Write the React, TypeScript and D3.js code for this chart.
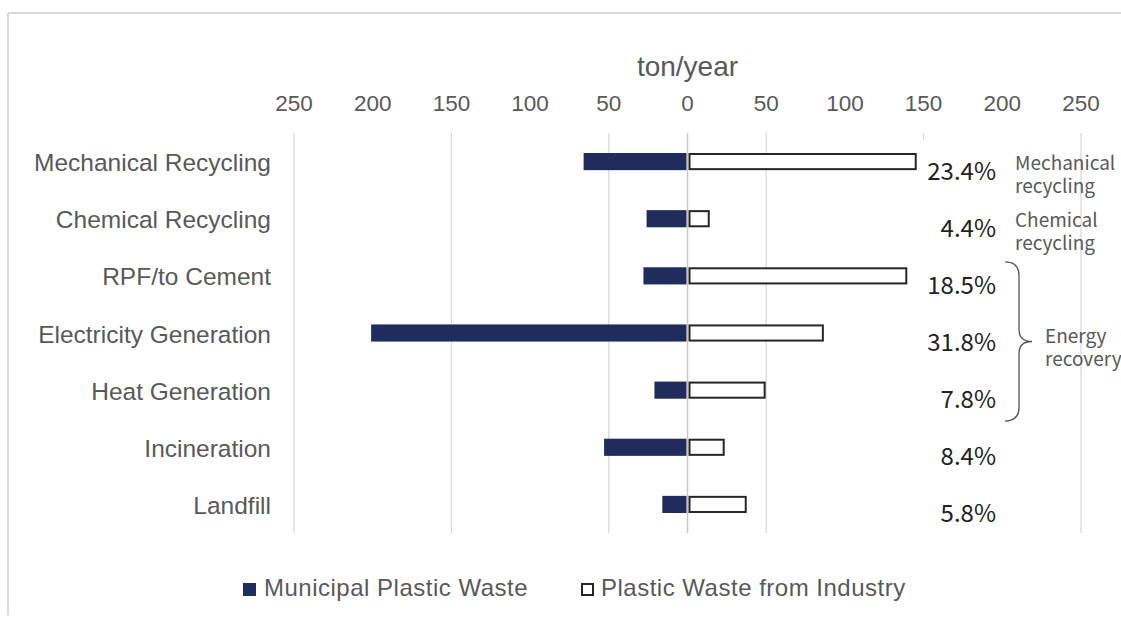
import React from "react";
import * as d3 from "d3";

const categories = [
  "Mechanical Recycling",
  "Chemical Recycling",
  "RPF/to Cement",
  "Electricity Generation",
  "Heat Generation",
  "Incineration",
  "Landfill",
];
const municipal = [66, 26, 28, 201, 21, 53, 16];
const industry = [145, 13.5, 139, 86, 49, 23, 37];
const shares = ["23.4%", "4.4%", "18.5%", "31.8%", "7.8%", "8.4%", "5.8%"];
const tickValues = [-250, -200, -150, -100, -50, 0, 50, 100, 150, 200, 250];
const gridValues = [-250, -150, -50, 50, 150, 250];
const seriesNames = ["Municipal Plastic Waste", "Plastic Waste from Industry"];

const W = 1121;
const H = 618;
const NAVY = "#1F2C5C";
const TXT = "#595959";
const SANS = "'Liberation Sans', Arial, sans-serif";
const JP = "'Noto Sans CJK JP', 'Noto Sans', sans-serif";

export default function App() {
  const x = d3.scaleLinear().domain([-250, 250]).range([294, 1081]);
  const y = d3
    .scaleBand<string>()
    .domain(categories)
    .range([133, 533])
    .paddingInner(0.7)
    .paddingOuter(0.35);
  const bw = y.bandwidth();
  const cy = (c: string) => (y(c) as number) + bw / 2;

  const brTop = cy(categories[2]) - 14;
  const brBot = cy(categories[4]) + 31;
  const brMid = (brTop + brBot) / 2;
  const bx = 1005;
  const bv = 1019;
  const btip = 1032;
  const bracePath = `M${bx},${brTop} Q${bv},${brTop} ${bv},${brTop + 14} L${bv},${brMid - 12} Q${bv},${brMid} ${btip},${brMid} Q${bv},${brMid} ${bv},${brMid + 12} L${bv},${brBot - 14} Q${bv},${brBot} ${bx},${brBot}`;

  const notes = [
    { x: 1015, y: cy(categories[0]) + 8, lines: ["Mechanical", "recycling"] },
    { x: 1015, y: cy(categories[1]) + 8, lines: ["Chemical", "recycling"] },
    { x: 1045, y: brMid + 1, lines: ["Energy", "recovery"] },
  ];

  return (
    <svg
      width={W}
      height={H}
      style={{ position: "absolute", left: 0, top: 0, background: "#fff" }}
    >
      <rect x={0} y={0} width={W} height={H} fill="#fff" />
      {/* frame */}
      <line x1={8} y1={13} x2={W} y2={13} stroke="#d9d9d9" strokeWidth={2} />
      <line x1={8} y1={13} x2={8} y2={615} stroke="#d9d9d9" strokeWidth={2} />

      {/* gridlines */}
      {gridValues.map((v) => (
        <line
          key={v}
          x1={x(v)}
          x2={x(v)}
          y1={133}
          y2={533}
          stroke="#d9d9d9"
          strokeWidth={1.3}
        />
      ))}
      <line x1={x(0)} x2={x(0)} y1={133} y2={533} stroke="#c8c8c8" strokeWidth={1.5} />

      {/* axis title and ticks */}
      <text x={x(0)} y={76} textAnchor="middle" fontFamily={SANS} fontSize={28} fill={TXT}>
        ton/year
      </text>
      {tickValues.map((v) => (
        <text
          key={v}
          x={x(v)}
          y={111}
          textAnchor="middle"
          fontFamily={SANS}
          fontSize={22.5}
          fill={TXT}
        >
          {Math.abs(v)}
        </text>
      ))}

      {/* category labels */}
      {categories.map((c) => (
        <text
          key={c}
          x={271}
          y={cy(c) + 9.5}
          textAnchor="end"
          fontFamily={SANS}
          fontSize={24.5}
          fill={TXT}
        >
          {c}
        </text>
      ))}

      {/* bars */}
      {categories.map((c, i) => (
        <rect
          key={"m" + c}
          x={x(-municipal[i])}
          y={y(c)}
          width={x(0) - x(-municipal[i]) - 1}
          height={bw}
          fill={NAVY}
        />
      ))}
      {categories.map((c, i) => (
        <rect
          key={"i" + c}
          x={x(0) + 2}
          y={(y(c) as number) + 1}
          width={x(industry[i]) - x(0) - 2}
          height={bw - 2}
          fill="#fff"
          stroke="#262626"
          strokeWidth={2}
        />
      ))}

      {/* white box behind percentages */}
      <rect x={918} y={140} width={84} height={395} fill="#fff" />

      {/* percentage labels */}
      {categories.map((c, i) => (
        <text
          key={"p" + c}
          x={996}
          y={cy(c) + 18}
          textAnchor="end"
          fontFamily={JP}
          fontSize={24}
          fill="#222"
        >
          {shares[i]}
        </text>
      ))}

      {/* group annotations */}
      {notes.map((n) => (
        <text key={n.lines[0]} x={n.x} y={n.y} fontFamily={JP} fontSize={19} fill="#595959">
          {n.lines.map((l, k) => (
            <tspan key={l} x={n.x} dy={k === 0 ? 0 : 23}>
              {l}
            </tspan>
          ))}
        </text>
      ))}
      <path d={bracePath} fill="none" stroke="#555" strokeWidth={1.3} />

      {/* legend */}
      <rect x={243} y={583} width={13} height={13} fill={NAVY} />
      <text x={264} y={596} fontFamily={SANS} fontSize={24} letterSpacing={0.5} fill={TXT}>
        {seriesNames[0]}
      </text>
      <rect x={582} y={584} width={11} height={11} fill="#fff" stroke="#262626" strokeWidth={2} />
      <text x={601} y={596} fontFamily={SANS} fontSize={24} letterSpacing={0.5} fill={TXT}>
        {seriesNames[1]}
      </text>
    </svg>
  );
}
